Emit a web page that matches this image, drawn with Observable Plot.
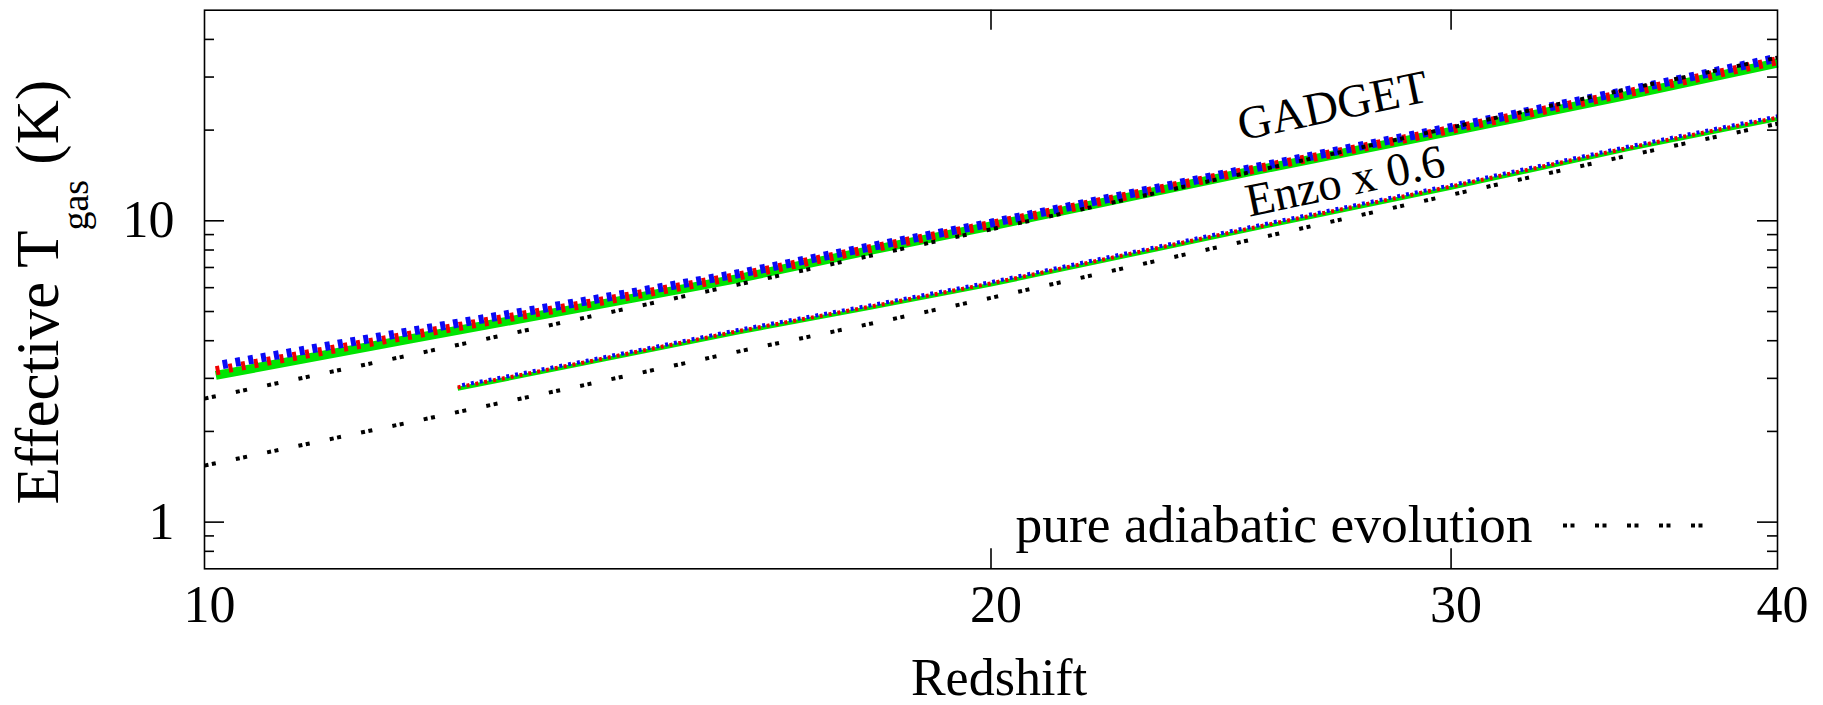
<!DOCTYPE html>
<html>
<head>
<meta charset="utf-8">
<script src="https://cdn.jsdelivr.net/npm/d3@7"></script>
<script src="https://cdn.jsdelivr.net/npm/@observablehq/plot@0.6"></script>
<style>
  html, body { margin: 0; padding: 0; background: #fff; }
  #chart svg { display: block; }
</style>
</head>
<body>
<div id="chart"></div>
<script>
// ---- data ----
const redshift = [10, 12, 14, 16, 18, 20, 25, 30, 35, 40];
const adiabaticUpper = [2.57, 3.59, 4.78, 6.14, 7.67, 9.37, 14.36, 20.4, 27.3, 34.8];
const adiabaticLower = [1.54, 2.15, 2.86, 3.68, 4.56, 5.55, 8.55, 12.2, 16.4, 21.0];

const gadgetZ = [10.1, 12, 14, 16, 18, 20, 25, 30, 35, 40];
const gadgetBlue  = [3.30, 4.30, 5.42, 6.67, 8.21, 9.83, 14.76, 20.4, 26.98, 34.7];
const gadgetRed   = [3.18, 4.18, 5.30, 6.55, 8.10, 9.72, 14.60, 20.1, 26.50, 34.0];
const gadgetGreen = [3.07, 4.06, 5.18, 6.43, 7.99, 9.61, 14.44, 19.8, 26.02, 33.4];

const enzoZ = [12.5, 14, 16, 18, 20, 25, 30, 35, 40];
const enzoBlue  = [2.83, 3.43, 4.34, 5.25, 6.26, 9.44, 13.13, 17.57, 22.22];
const enzoRed   = [2.80, 3.40, 4.30, 5.20, 6.20, 9.35, 13.00, 17.40, 22.00];
const enzoGreen = [2.77, 3.37, 4.26, 5.15, 6.14, 9.26, 12.87, 17.23, 21.78];

const xTickValues = [10, 20, 30, 40];
const yTickLabels = [1, 10];
const yMinorTicks = [0.8, 0.9, 2, 3, 4, 5, 6, 7, 8, 9, 20, 30, 40];
const xInnerTicks = [20, 30];

const labels = [
  {text: "GADGET", z: 27.1, T: 21.5},
  {text: "Enzo x 0.6", z: 27.4, T: 12.09}
];
const legendText = "pure adiabatic evolution";
const yTitleMain = "Effective T";
const yTitleSub = "gas";
const yTitleUnit = " (K)";
const xTitle = "Redshift";

// ---- layout ----
const W = 1823, H = 705;
const mL = 204, mR = 46, mT = 9.7, mB = 136.7;
const plotW = W - mL - mR, plotH = H - mT - mB;
const serif = "'Liberation Serif', 'Times New Roman', Times, serif";

const rows = (zs, Ts) => zs.map((z, i) => ({z, T: Ts[i]}));

const colorGreen = "#00e400", colorRed = "#f00000", colorBlue = "#0a0af5";
const dotted = "4,3.5,4,20.5";

const lineOpts = (extra) => ({x: "z", y: "T", strokeLinecap: "butt", strokeLinejoin: "miter", ...extra});

const chart = Plot.plot({
  width: W,
  height: H,
  marginLeft: mL,
  marginRight: mR,
  marginTop: mT,
  marginBottom: mB,
  style: {fontFamily: serif, background: "#fff", color: "#000"},
  x: {type: "log", domain: [10, 40]},
  y: {type: "log", domain: [0.7, 50]},
  marks: [
    // GADGET band
    Plot.line(rows(gadgetZ, gadgetGreen), lineOpts({stroke: colorGreen, strokeWidth: 9})),
    Plot.line(rows(gadgetZ, gadgetRed), lineOpts({stroke: colorRed, strokeWidth: 9, strokeDasharray: "4,9"})),
    Plot.line(rows(gadgetZ, gadgetBlue), lineOpts({stroke: colorBlue, strokeWidth: 9, strokeDasharray: "5,8", strokeDashoffset: 6})),
    // Enzo band
    Plot.line(rows(enzoZ, enzoGreen), lineOpts({stroke: colorGreen, strokeWidth: 4})),
    Plot.line(rows(enzoZ, enzoRed), lineOpts({stroke: colorRed, strokeWidth: 4, strokeDasharray: "3,6"})),
    Plot.line(rows(enzoZ, enzoBlue), lineOpts({stroke: colorBlue, strokeWidth: 4, strokeDasharray: "3,6", strokeDashoffset: 4.5})),
    // pure adiabatic
    Plot.line(rows(redshift, adiabaticUpper), lineOpts({stroke: "#000", strokeWidth: 4, strokeDasharray: dotted})),
    Plot.line(rows(redshift, adiabaticLower), lineOpts({stroke: "#000", strokeWidth: 4, strokeDasharray: dotted})),
    // frame and inward ticks
    Plot.frame({stroke: "#000", strokeWidth: 1.6}),
    Plot.tickY(yTickLabels, {y: d => d, insetRight: plotW - 20, stroke: "#000", strokeWidth: 1.6}),
    Plot.tickY(yTickLabels, {y: d => d, insetLeft: plotW - 20, stroke: "#000", strokeWidth: 1.6}),
    Plot.tickY(yMinorTicks, {y: d => d, insetRight: plotW - 10, stroke: "#000", strokeWidth: 1.6}),
    Plot.tickY(yMinorTicks, {y: d => d, insetLeft: plotW - 10, stroke: "#000", strokeWidth: 1.6}),
    Plot.tickX(xInnerTicks, {x: d => d, insetTop: plotH - 20, stroke: "#000", strokeWidth: 1.6}),
    Plot.tickX(xInnerTicks, {x: d => d, insetBottom: plotH - 20, stroke: "#000", strokeWidth: 1.6}),
    // axes labels
    Plot.axisX({ticks: xTickValues, tickSize: 0, tickPadding: 16.5, fontSize: 52, dx: 5, label: null, tickFormat: d => String(d)}),
    Plot.axisY({ticks: yTickLabels, tickSize: 0, tickPadding: 30, fontSize: 52, label: null, tickFormat: d => String(d)}),
    Plot.text([xTitle], {frameAnchor: "bottom", dx: 8, dy: 126, lineAnchor: "bottom", fontSize: 52, fill: "#000"}),
    Plot.text([yTitleMain + yTitleSub + yTitleUnit], {frameAnchor: "left", dx: -147, dy: 2.7, rotate: -90, lineAnchor: "bottom", textAnchor: "middle", fontSize: 61, fill: "#000"}),
    // series labels
    Plot.text(labels, {x: "z", y: "T", text: "text", rotate: -11.8, lineAnchor: "bottom", textAnchor: "middle", fontSize: 47, fill: "#000"}),
    // legend
    Plot.text([legendText], {frameAnchor: "bottom-right", dx: -245, dy: -27.3, lineAnchor: "bottom", textAnchor: "end", fontSize: 53.5, fill: "#000"}),
    Plot.ruleY([1], {dy: 3.4, insetLeft: 1563 - mL, insetRight: mL + plotW - 1713, stroke: "#000", strokeWidth: 4, strokeDasharray: dotted, strokeLinecap: "butt"})
  ]
});

document.getElementById("chart").appendChild(chart);

// subscript for the y title
const ns = "http://www.w3.org/2000/svg";
for (const t of chart.querySelectorAll("text")) {
  if (t.textContent === yTitleMain + yTitleSub + yTitleUnit) {
    t.textContent = "";
    t.style.whiteSpace = "pre";
    const a = document.createElementNS(ns, "tspan");
    a.textContent = yTitleMain;
    const b = document.createElementNS(ns, "tspan");
    b.textContent = yTitleSub;
    b.setAttribute("font-size", "38");
    b.setAttribute("dy", "30");
    const c = document.createElementNS(ns, "tspan");
    c.textContent = yTitleUnit;
    c.setAttribute("dy", "-30");
    t.appendChild(a); t.appendChild(b); t.appendChild(c);
  }
}
</script>
</body>
</html>
